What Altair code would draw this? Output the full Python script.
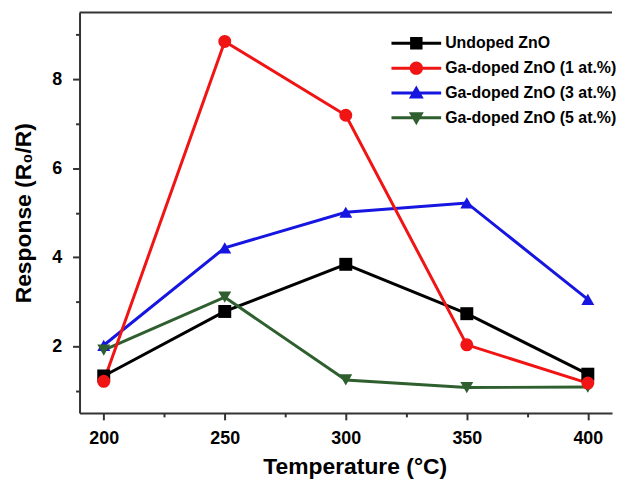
import altair as alt
import pandas as pd

# ---- data ----
temps = [200, 250, 300, 350, 400]
undoped = [1.33, 2.78, 3.84, 2.73, 1.37]
ga1 = [1.21, 8.85, 7.19, 2.03, 1.17]
ga3 = [2.02, 4.21, 5.01, 5.22, 3.05]
ga5 = [1.91, 3.10, 1.24, 1.07, 1.08]

series_names = ["Undoped ZnO", "Ga-doped ZnO (1 at.%)", "Ga-doped ZnO (3 at.%)", "Ga-doped ZnO (5 at.%)"]
series_values = [undoped, ga1, ga3, ga5]
series_colors = ["#000000", "#f01414", "#1616e0", "#2f5f2f"]
marker_shapes = ["square", "circle", "triangle-up", "triangle-down"]
# legend glyphs (filled, all clockwise): a thin horizontal bar with the marker in its middle
legend_paths = [
    "M-5,-0.3H5V0.3H-5ZM-1.25,-1.25H1.25V1.25H-1.25Z",
    "M-5,-0.3H5V0.3H-5ZM-1.35,0A1.35,1.35 0 1,1 1.35,0A1.35,1.35 0 1,1 -1.35,0Z",
    "M-5,-0.3H5V0.3H-5ZM0,-1.5L1.5,1.1H-1.5Z",
    "M-5,-0.3H5V0.3H-5ZM0,1.5L-1.5,-1.1H1.5Z",
]
draw_order = [0, 2, 3, 1]

x_ticks = [200, 225, 250, 275, 300, 325, 350, 375, 400]
y_ticks = [1, 2, 3, 4, 5, 6, 7, 8, 9]

rows = []
for i in draw_order:
    for t, v in zip(temps, series_values[i]):
        rows.append({"Temperature": t, "Response": v, "Series": series_names[i]})
df = pd.DataFrame(rows)

W, H = 536, 403
FONT = "Liberation Sans"
AX = "#333333"

x_enc = alt.X(
    "Temperature:Q",
    scale=alt.Scale(domain=[190, 410], nice=False, zero=False),
    axis=alt.Axis(
        values=x_ticks,
        labelExpr="datum.value % 50 == 0 ? datum.label : ''",
        tickSize={"condition": {"test": "datum.value % 50 == 0", "value": 7}, "value": 4},
        title="Temperature (°C)",
        titleX=277,
        titlePadding=8,
        labelPadding=10,
        grid=False,
    ),
)
y_enc = alt.Y(
    "Response:Q",
    scale=alt.Scale(domain=[0.5, 9.5], nice=False, zero=False),
    axis=alt.Axis(
        values=y_ticks,
        labelExpr="datum.value % 2 == 0 ? datum.label : ''",
        tickSize={"condition": {"test": "datum.value % 2 == 0", "value": 7}, "value": 4},
        title="Response (R₀/R)",
        titlePadding=16,
        labelPadding=11,
        grid=False,
    ),
)

color_scale = alt.Scale(domain=series_names, range=series_colors)

leg = alt.Legend(
    title=None, orient="none", legendX=331, legendY=23,
    symbolSize=100, symbolStrokeWidth=0, symbolOpacity=1,
    labelFont=FONT, labelFontSize=16, labelFontWeight="bold", labelColor="#000000",
    labelOffset=21, rowPadding=9, padding=0, labelLimit=400,
)

# invisible layer that only carries the legend (first, so its legend settings win)
legend_layer = alt.Chart(df).mark_point(filled=True, opacity=0).encode(
    x=x_enc, y=y_enc,
    color=alt.Color("Series:N", scale=color_scale, legend=leg),
    shape=alt.Shape("Series:N", scale=alt.Scale(domain=series_names, range=legend_paths), legend=leg),
)

lines = alt.Chart(df).mark_line(strokeWidth=3).encode(
    x=x_enc, y=y_enc,
    color=alt.Color("Series:N", scale=color_scale),
)

point_layers = []
for i in draw_order:
    point_layers.append(
        alt.Chart(df)
        .transform_filter(alt.datum.Series == series_names[i])
        .mark_point(filled=True, size=170, opacity=1, shape=marker_shapes[i], color=series_colors[i])
        .encode(x=x_enc, y=y_enc)
    )

top_frame = alt.Chart(pd.DataFrame({"k": [0]})).mark_rule(color=AX, strokeWidth=2).encode(
    x=alt.value(0), x2=alt.value(W), y=alt.value(0)
)

chart = (
    alt.layer(legend_layer, lines, *point_layers, top_frame)
    .properties(width=W, height=H, padding={"left": 4, "top": 2, "right": 0, "bottom": 0})
    .configure_view(stroke=None)
    .configure_axis(
        domainColor=AX, domainWidth=2, tickColor=AX, tickWidth=2,
        labelFont=FONT, labelFontSize=18, labelFontWeight="bold", labelColor="#000000",
        titleFont=FONT, titleFontSize=23, titleFontWeight="bold", titleColor="#000000",
    )
)

chart.save("out.html", embed_options={"renderer": "svg", "actions": False})
